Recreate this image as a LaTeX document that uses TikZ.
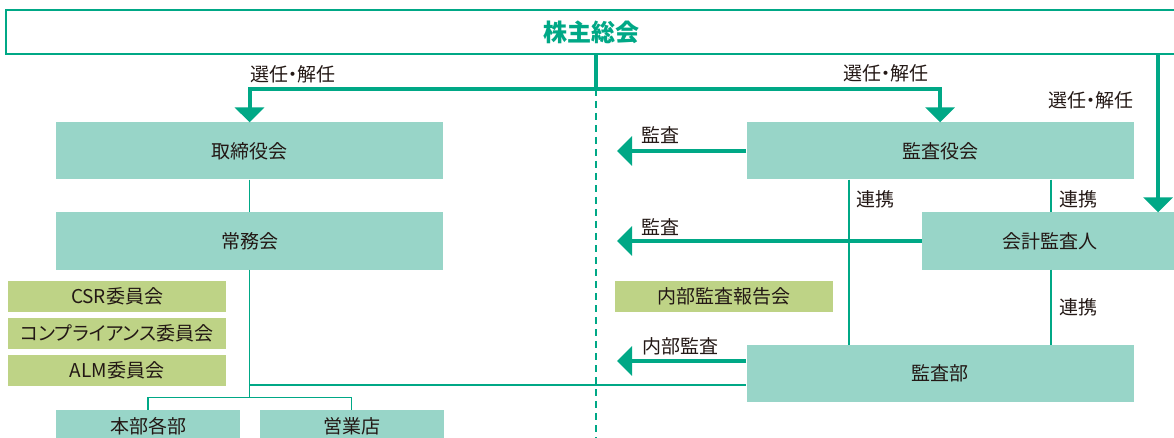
\documentclass[tikz,border=0pt]{standalone}
\usepackage{fontspec}
\setmainfont{Noto Sans CJK JP}[RawFeature=+palt]
\usetikzlibrary{arrows.meta}
\definecolor{grn}{HTML}{00A886}
\definecolor{teal1}{HTML}{98D5C8}
\definecolor{olive1}{HTML}{BED386}
\definecolor{ink}{HTML}{231815}

\begin{document}
\begin{tikzpicture}[x=1pt,y=-1pt,
  every node/.style={font=\fontsize{19}{22}\selectfont,text=ink},
  unit/.style={fill=teal1,inner sep=0,minimum width=387pt,minimum height=57pt},
  cmte/.style={fill=olive1,inner sep=0,minimum width=218pt,minimum height=31pt},
  big/.style={draw=grn,line width=4pt},
  tip/.style={-{Triangle[width=29pt,length=15pt]}},
  fine/.style={draw=grn,line width=1.6pt}]
\useasboundingbox (0,0) rectangle (1174,438);

\node[draw=grn,line width=2pt,fill=white,inner sep=0,minimum width=1170pt,minimum height=44pt,
  font=\bfseries\fontsize{24}{26}\selectfont,text=grn] (gm) at (591,32) {株主総会};

\node[unit] (board) at (249.5,151) {取締役会};
\node[unit] (jomu) at (249.5,241) {常務会};
\node[unit] (kansayaku) at (940,151) {監査役会};
\node[unit,minimum width=256pt] (kaikei) at (1050,241) {会計監査人};
\node[unit] (kansabu) at (940,373.5) {監査部};
\node[unit,minimum width=184pt,minimum height=32pt] (honbu) at (148,426) {本部各部};
\node[unit,minimum width=184pt,minimum height=32pt] (eigyo) at (351.5,426) {営業店};

\foreach \y/\t [count=\i] in {296.5/CSR委員会,333.5/コンプライアンス委員会,370.5/ALM委員会}
  \node[cmte] (c\i) at (117,\y) {\t};
\node[cmte] (hokoku) at (724,296.5) {内部監査報告会};

% election arrows
\coordinate (split) at (596,89);
\coordinate (rx) at (1158,0);
\draw[big] (gm.south -| split) -- (split);
\draw[big,tip] (split) -| (board.north);
\draw[big,tip] (split) -| (kansayaku.north);
\draw[big,tip] (gm.south -| rx) -- (kaikei.north -| rx);
\draw[grn,line width=1.5pt,dash pattern=on 7pt off 5pt] (split) -- (596,440);

% audit arrows
\coordinate (lx) at (617,0);
\draw[big,tip] (kansayaku.west) -- (kansayaku.west -| lx);
\draw[big,tip] (kaikei.west) -- (kaikei.west -| lx);
\draw[big,tip] ([yshift=12.5pt]kansabu.west) -- ([yshift=12.5pt]kansabu.west -| lx);

% thin links
\coordinate (hub) at (249.5,385);
\coordinate (fork) at (249.5,397.5);
\draw[fine] (board.south) -- (jomu.north);
\draw[fine] (jomu.south) -- (fork);
\draw[fine] (hub) -- (hub -| kansabu.west);
\draw[fine] (honbu.north) |- (fork) -| (eigyo.north);
\coordinate (m1) at (849,0);
\coordinate (m2) at (1051,0);
\draw[fine] (kansayaku.south -| m1) -- (kansabu.north -| m1);
\draw[fine] (kansayaku.south -| m2) -- (kaikei.north -| m2);
\draw[fine] (kaikei.south -| m2) -- (kansabu.north -| m2);

\node (l1) at (293,74) {選任・解任};
\node (l2) at (886,73) {選任・解任};
\node (l3) at (1091,100) {選任・解任};
\node (a1) at (660,135) {監査};
\node (a2) at (660,227) {監査};
\node (a3) at (680,346) {内部監査};
\node (r1) at (875,199) {連携};
\node (r2) at (1078,199) {連携};
\node (r3) at (1078,307) {連携};
\end{tikzpicture}
\end{document}
